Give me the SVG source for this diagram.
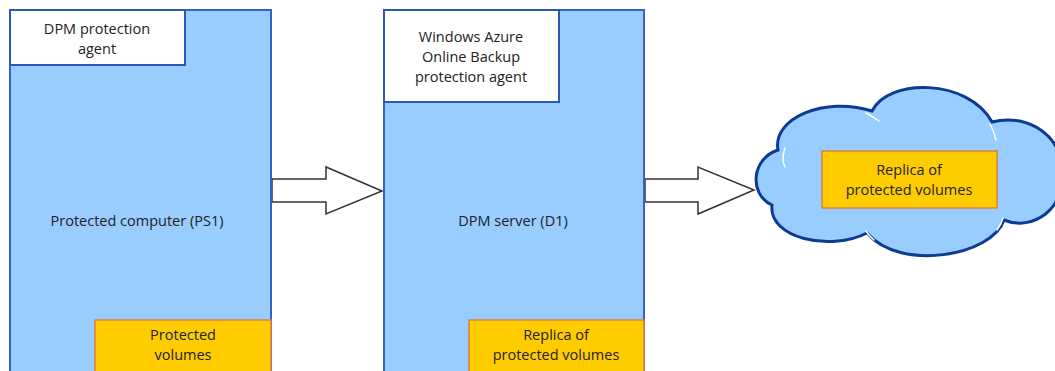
<svg xmlns="http://www.w3.org/2000/svg" width="1055" height="371" viewBox="0 0 1055 371">
<style>
.main{fill:#99CCFF;stroke:#3A62C6;stroke-width:2}
.agent{fill:#FFFFFF;stroke:#2F55B8;stroke-width:2}
.vol{fill:#FFCC00;stroke:#E0803A;stroke-width:1.5}
.arrow{fill:#FFFFFF;stroke:#333333;stroke-width:1.5;stroke-linejoin:miter}
.cloud{fill:#99CCFF;stroke:#0D3A94;stroke-width:3}
.hl{fill:none;stroke:#FFFFFF;stroke-width:1.5;stroke-linecap:round}
text{font-family:"Open Sans","Noto Sans","Liberation Sans",sans-serif;font-size:14.5px;fill:#222222;text-anchor:middle}
</style>
<rect width="1055" height="371" fill="#FFFFFF"/>
<g id="connectors">
<polygon class="arrow" points="272,179 326,179 326,167 382,191 326,214 326,202 272,202"/>
<polygon class="arrow" points="645,179 698,179 698,167 754,190 698,214 698,202 645,202"/>
</g>
<g id="ps1">
<rect class="main" x="10" y="10" width="261" height="375"/>
<text x="137" y="226">Protected computer (PS1)</text>
</g>
<g id="ps1-agent">
<rect class="agent" x="10" y="10" width="175" height="55"/>
<text x="97" y="34">DPM protection</text>
<text x="97" y="54">agent</text>
</g>
<g id="ps1-volumes">
<rect class="vol" x="95" y="320" width="176" height="65"/>
<text x="183" y="340">Protected</text>
<text x="183" y="360">volumes</text>
</g>
<g id="d1">
<rect class="main" x="384" y="10" width="260" height="375"/>
<text x="513" y="226">DPM server (D1)</text>
</g>
<g id="d1-agent">
<rect class="agent" x="384" y="10" width="175" height="92"/>
<text x="471" y="42">Windows Azure</text>
<text x="471" y="62">Online Backup</text>
<text x="471" y="82">protection agent</text>
</g>
<g id="d1-replica">
<rect class="vol" x="469" y="320" width="175" height="65"/>
<text x="556" y="340">Replica of</text>
<text x="556" y="360">protected volumes</text>
</g>
<g id="cloud">
<path class="cloud" d="M 778 150 C 772 118, 825 96, 872 111 C 888 78, 968 78, 992 122 C 1030 112, 1066 140, 1060 172 C 1068 208, 1032 232, 1004 220 C 992 256, 900 272, 867 233 C 830 252, 768 238, 772 205 C 748 194, 752 158, 778 150 Z"/>
<path class="hl" d="M 785 148 Q 781 160 785 167"/>
<path class="hl" d="M 866 113 Q 872 116 879 121"/>
<path class="hl" d="M 990 124 Q 994 131 996 140"/>
<path class="hl" d="M 1003 218 Q 1001 225 997 230"/>
<path class="hl" d="M 866 231 Q 869 236 874 240"/>
</g>
<g id="cloud-replica">
<rect class="vol" x="822" y="151" width="175" height="57"/>
<text x="909" y="175">Replica of</text>
<text x="909" y="195">protected volumes</text>
</g>
</svg>
